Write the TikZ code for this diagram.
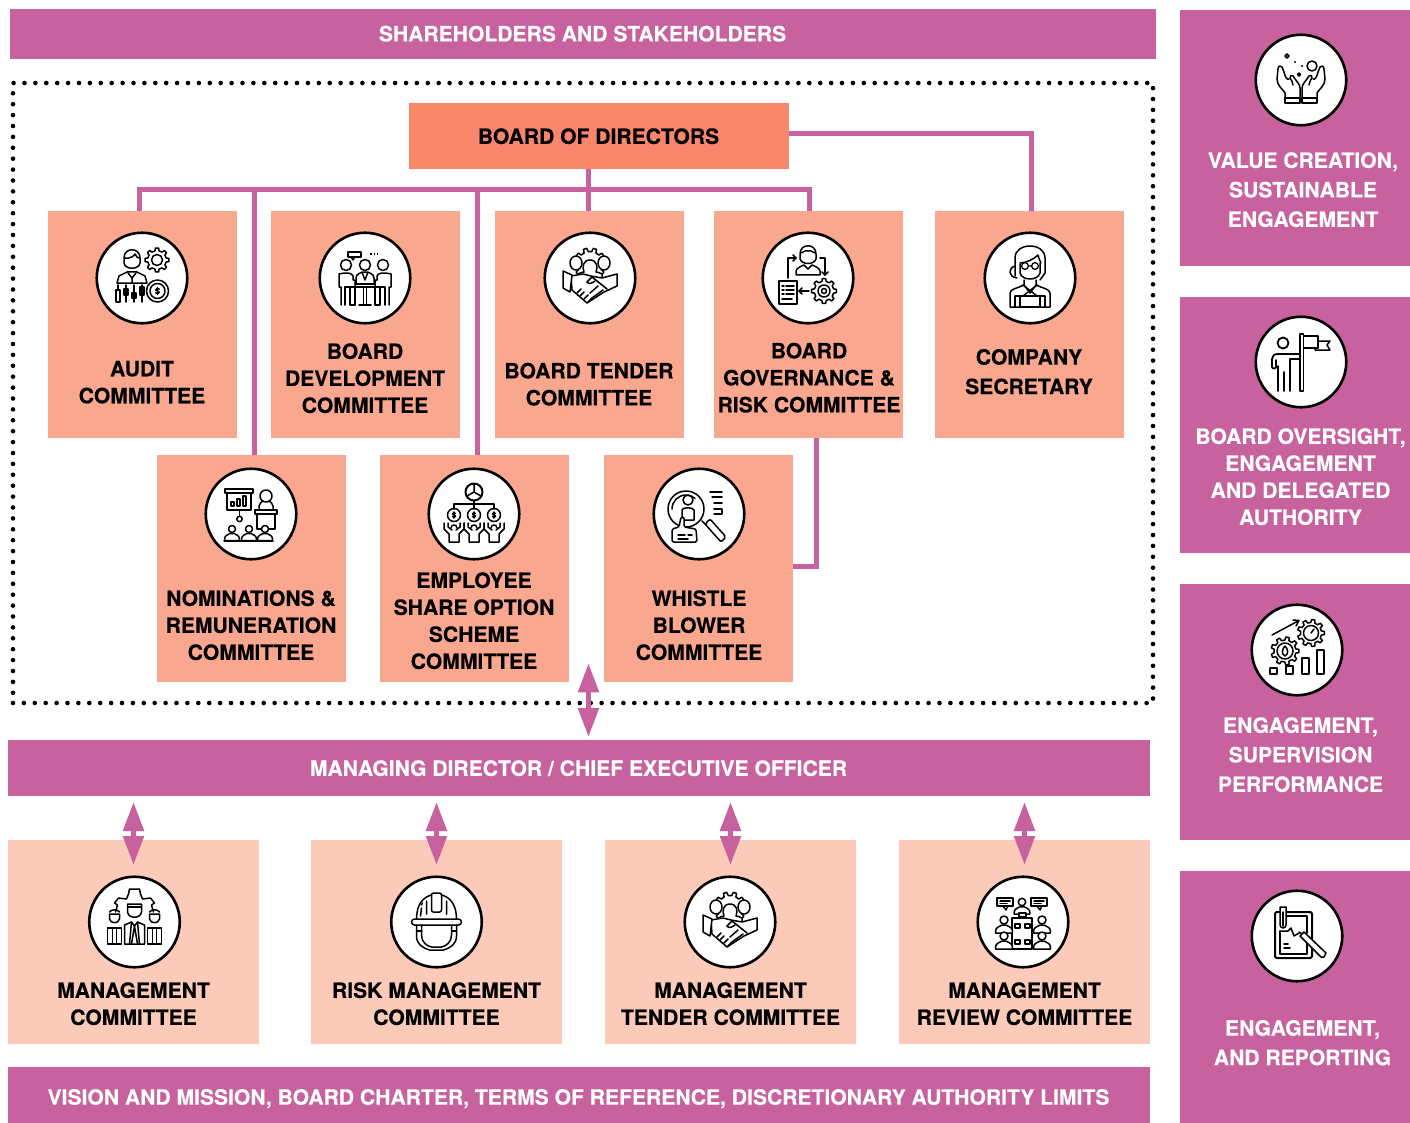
\documentclass[tikz,border=0pt]{standalone}
\usepackage{fontspec}
\setmainfont{TeX Gyre Heros}[BoldFeatures={FakeBold=0.25}]
\usetikzlibrary{arrows.meta,calc}
\definecolor{plum}{HTML}{C7629F}
\definecolor{coral}{HTML}{F9856B}
\definecolor{salmon}{HTML}{F9A78F}
\definecolor{peach}{HTML}{FBCAB8}
\tikzset{
 box/.style={rectangle,inner sep=0pt,outer sep=0pt,draw=none},
 lab/.style={align=center,inner sep=0pt,outer sep=0pt,text=black,yshift=.8pt,font=\fontsize{21.1}{27}\selectfont\bfseries},
 wlab/.style={lab,text=white},
 wide/.style={font=\fontsize{21.1}{29.5}\selectfont\bfseries},
 disc/.style={circle,draw=black,fill=white,line width=2.6pt,minimum size=90.5pt,inner sep=0pt},
 conn/.style={draw=plum,line width=5pt},
 darr/.style={plum,line width=5.4pt,{Triangle[width=20pt,length=29pt]}-{Triangle[width=20pt,length=29pt]}},
 ic/.style={draw=black,line width=1.5pt,line join=round,line cap=round},
 icw/.style={ic,fill=white},
 thk/.style={ic,line width=2.4pt}
}
\newcommand{\gearat}[4]{%
 \begin{scope}[shift={(#1,#2)}]
 \pgfmathsetmacro{\gstep}{360/#4}
 \pgfmathsetmacro{\grin}{#3*0.78}
 \draw[icw] (\gstep*0.72:\grin pt)
 \foreach \i in {1,...,#4} {
 -- ({\i*\gstep-0.28*\gstep}:\grin pt) -- ({\i*\gstep-0.17*\gstep}:#3 pt) -- ({\i*\gstep+0.17*\gstep}:#3 pt) -- ({\i*\gstep+0.28*\gstep}:\grin pt)
 } -- cycle;
 \end{scope}}
\newcommand{\bustat}[3]{%
 \begin{scope}[shift={(#1,#2)},scale=#3]
 \draw[icw] (-2.1,3.3) -- (-2.1,2.7) .. controls (-2.1,1.8) and (-1,1.6) .. (-.6,1.3) -- (.6,1.3) .. controls (1,1.6) and (2.1,1.8) .. (2.1,2.7) -- (2.1,3.3) -- cycle;
 \draw[icw] (0,0) circle (1pt);
 \end{scope}}
\newcommand{\dollarat}[3]{%
 \begin{scope}[shift={(#1,#2)},scale=#3]
 \draw[ic] (2,-2) .. controls (1,-3.5) and (-2.5,-3) .. (-2,-1) .. controls (-1.5,.5) and (2.5,-.5) .. (2,1.5) .. controls (1.5,3.5) and (-1,3.5) .. (-2,2);
 \draw[ic] (0,-4) -- (0,4);
 \end{scope}}
\newcommand{\handshakeicon}{%
 \gearat{0}{-14}{16}{10}
 \draw[icw] (-14,-15) ellipse (6pt and 7pt);
 \draw[icw] (14,-15) ellipse (6pt and 7pt);
 \draw[icw] (-12,0) -- (-12,-4) .. controls (-10,-6) and (-8,-5) .. (-6,-6) .. controls (-8,-11) and (-7,-18) .. (0,-18) .. controls (7,-18) and (8,-11) .. (6,-6) .. controls (8,-5) and (10,-6) .. (12,-4) -- (12,0) -- cycle;
 \draw[icw] (-19,-2) -- (-7,-4) -- (1,-2) -- (12,0) -- (27,-4) -- (27,8) -- (14,14) -- (-3,25) -- (-18,12) -- cycle;
 \draw[icw] (-27,-7) -- (-18,-3) -- (-20,14) -- (-27,10) -- cycle;
 \draw[ic] (-3,4) -- (2,-1) -- (17,11);
 \draw[ic] (-3,4) .. controls (-1,7) and (2,5) .. (5,3);
 \draw[ic] (-13,15) -- (-9,11) (-10,18) -- (-6,14) (-6,21) -- (-2,17) (-2,24) -- (2,20);
 \draw[ic] (2,20) -- (13,12) (0,15) -- (8,8);
}
\begin{document}
\begin{tikzpicture}[x=1pt,y=-1pt]
\useasboundingbox (0,0) rectangle (1410,1123);
\fill[white] (0,0) rectangle (1410,1123);

% bars
\node[box,fill=plum,minimum width=1146pt,minimum height=50pt] (top) at (583,34) {};
\node[wlab] (topt) at (582.5,34.5) {SHAREHOLDERS AND STAKEHOLDERS};
\node[draw=black,line width=4.6pt,line cap=round,dash pattern=on 0pt off 10.9pt,minimum width=1140pt,minimum height=620pt,inner sep=0pt] (frame) at (583,393) {};
\node[box,fill=coral,minimum width=380pt,minimum height=66pt] (board) at (599,136) {};
\node[lab] (boardt) at (598.5,137) {BOARD OF DIRECTORS};
\node[box,fill=plum,minimum width=1142pt,minimum height=56pt] (md) at (579,768) {};
\node[wlab] (mdt) at (578.5,769) {MANAGING DIRECTOR / CHIEF EXECUTIVE OFFICER};
\node[box,fill=plum,minimum width=1142pt,minimum height=56pt] (vis) at (579,1095) {};
\node[wlab] (vist) at (578.5,1099.5) {VISION AND MISSION, BOARD CHARTER, TERMS OF REFERENCE, DISCRETIONARY AUTHORITY LIMITS};

% committee boxes
\foreach \n/\cx/\cy in {aud/142.5/324.5,dev/365.5/324.5,ten/589.5/324.5,gov/808.5/324.5,sec/1029.5/324.5,nom/251.5/568.5,emp/474.5/568.5,whi/698.5/568.5}
 \node[box,fill=salmon,minimum width=189pt,minimum height=227pt] (\n) at (\cx,\cy) {};
\foreach \n/\cx in {mgc/133.5,rmc/436.5,mtc/730.5,mrc/1024.5}
 \node[box,fill=peach,minimum width=251pt,minimum height=204pt] (\n) at (\cx,942) {};
\foreach \n/\cy/\hh in {pa/138/256,pb/425/256,pc/712/256,pd/997/252}
 \node[box,fill=plum,minimum width=230pt,minimum height=\hh pt] (\n) at (1295,\cy) {};

% connectors
\coordinate (bus) at (588.5,190);
\draw[conn] ([xshift=-3.5pt]aud.north) |- (bus) -| ([xshift=.5pt]gov.north);
\draw[conn] (board.south -| bus) -- (ten.north -| bus);
\draw[conn] ([xshift=2.5pt]nom.north) -- ([xshift=2.5pt]nom.north |- bus);
\draw[conn] ([xshift=2.5pt]emp.north) -- ([xshift=2.5pt]emp.north |- bus);
\draw[conn] ([yshift=2pt]board.east) -| ([xshift=1.5pt]sec.north);
\draw[conn] ([yshift=2.5pt]whi.east) -| ([xshift=7.5pt]gov.south);

% arrows
\draw[darr] ([yshift=3pt]md.north -| bus) -- ([yshift=42pt]frame.south -| bus);
\draw[darr] ([yshift=-6pt]md.south -| mgc.north) -- ([yshift=-25pt]mgc.north);
\draw[darr] ([yshift=-6pt]md.south -| rmc.north) -- ([yshift=-25pt]rmc.north);
\draw[darr] ([yshift=-6pt]md.south -| mtc.north) -- ([yshift=-25pt]mtc.north);
\draw[darr] ([yshift=-6pt]md.south -| mrc.north) -- ([yshift=-25pt]mrc.north);

% labels
\node[lab] (audt) at (142,383) {AUDIT\\COMMITTEE};
\node[lab] (devt) at (365,379) {BOARD\\DEVELOPMENT\\COMMITTEE};
\node[lab] (tent) at (589,385) {BOARD TENDER\\COMMITTEE};
\node[lab] (govt) at (809,378.5) {BOARD\\GOVERNANCE \&\\RISK COMMITTEE};
\node[lab,wide] (sect) at (1029,372.5) {COMPANY\\SECRETARY};
\node[lab] (nomt) at (251,626) {NOMINATIONS \&\\REMUNERATION\\COMMITTEE};
\node[lab] (empt) at (474,621.5) {EMPLOYEE\\SHARE OPTION\\SCHEME\\COMMITTEE};
\node[lab] (whit) at (699,626) {WHISTLE\\BLOWER\\COMMITTEE};
\node[lab] (mgct) at (133.5,1004.5) {MANAGEMENT\\COMMITTEE};
\node[lab] (rmct) at (436.5,1004.5) {RISK MANAGEMENT\\COMMITTEE};
\node[lab] (mtct) at (730.5,1004.5) {MANAGEMENT\\TENDER COMMITTEE};
\node[lab] (mrct) at (1024.5,1004.5) {MANAGEMENT\\REVIEW COMMITTEE};
\node[wlab,wide] (pat) at (1303,190.5) {VALUE CREATION,\\SUSTAINABLE\\ENGAGEMENT};
\node[wlab] (pbt) at (1300.5,477.5) {BOARD OVERSIGHT,\\ENGAGEMENT\\AND DELEGATED\\AUTHORITY};
\node[wlab,wide] (pct) at (1300.5,755.5) {ENGAGEMENT,\\SUPERVISION\\PERFORMANCE};
\node[wlab,wide] (pdt) at (1302.5,1043.5) {ENGAGEMENT,\\AND REPORTING};

% discs
\node[disc] (audi) at (142,278) {};
\node[disc] (devi) at (365,278) {};
\node[disc] (teni) at (590,278) {};
\node[disc] (govi) at (808,278) {};
\node[disc] (seci) at (1030,278) {};
\node[disc] (nomi) at (251,514) {};
\node[disc] (empi) at (474,514) {};
\node[disc] (whii) at (699,514) {};
\node[disc] (mgci) at (134.5,922) {};
\node[disc] (rmci) at (436.5,922) {};
\node[disc] (mtci) at (730,922) {};
\node[disc] (mrci) at (1023,922) {};
\node[disc] (pai) at (1301,80) {};
\node[disc] (pbi) at (1301,362) {};
\node[disc] (pci) at (1297,650) {};
\node[disc] (pdi) at (1297,936) {};

% audit icon
\begin{scope}[shift={(audi.center)}]
 \draw[ic] (-25,5) -- (-23,-2) -- (-15,-6) -- (-5,-6) -- (3,-2) -- (5,5) -- cycle;
 \draw[ic] (-18,-20) .. controls (-18,-31) and (-2,-31) .. (-2,-20) -- (-2,-15) .. controls (-3,-8) and (-17,-8) .. (-18,-15) -- cycle;
 \draw[ic] (-17,-20) .. controls (-12,-19) and (-8,-22) .. (-7,-24) .. controls (-6,-21) and (-4,-20) .. (-3,-20);
 \draw[ic] (-14,-5) -- (-10,0) -- (-6,-5) (-10,0) -- (-10,5);
 \gearat{15}{-18}{12}{8}
 \draw[ic] (15,-18) circle (5.5pt);
 \draw[ic] (15.5,13) circle (11pt) (15.5,13) circle (7.5pt);
 \dollarat{15.5}{13}{.9}
 \draw[icw] (-26,12) rectangle (-22,24);
 \draw[ic] (-24,7) -- (-24,12);
 \draw[icw] (-18,11) rectangle (-14,17);
 \draw[ic] (-16,7) -- (-16,24);
 \draw[icw] (-10,15) rectangle (-6,20);
 \draw[ic] (-8,7) -- (-8,24);
 \draw[icw] (-2,9) rectangle (2,17);
 \draw[ic] (0,7) -- (0,24);
\end{scope}
% development icon
\begin{scope}[shift={(devi.center)}]
 \draw[ic] (-17,-26) rectangle (-4,-21);
 \draw[ic] (-14,-21) -- (-12,-18) -- (-10,-21);
 \draw[ic,line width=2pt,dash pattern=on 1.5pt off 2pt,line cap=butt] (5,-24) -- (13,-24);
 \foreach \hx in {-19,0,18} \draw[ic] (\hx,-13) circle (5.5pt);
 \draw[ic] (-10,9) -- (-20,9) -- (-20,27);
 \draw[ic] (-10,9) -- (-10,2) -- (-12,2) -- (-12,-2) .. controls (-13,-5) and (-18,-6) .. (-26,-4) -- (-26,9) -- (-24,9) -- (-24,27);
 \draw[ic] (-10,9) -- (-10,27) -- (-15,27) -- (-15,9);
 \draw[ic] (10,9) -- (20,9) -- (20,27);
 \draw[ic] (10,9) -- (10,2) -- (12,2) -- (12,-2) .. controls (13,-5) and (18,-6) .. (26,-4) -- (26,9) -- (24,9) -- (24,27);
 \draw[ic] (10,9) -- (10,27) -- (15,27) -- (15,9);
 \draw[ic] (-9,6) -- (-9,0) .. controls (-9,-4) and (-4,-6) .. (0,-6) .. controls (4,-6) and (9,-4) .. (9,0) -- (9,6);
 \draw[ic] (-3,-6) -- (0,2) -- (3,-6);
 \draw[ic] (-10,6) -- (10,6) (-10,9) -- (10,9) (-1.5,9) -- (-1.5,27) (1.5,9) -- (1.5,27) (-6,27) -- (6,27);
\end{scope}
% tender icon
\begin{scope}[shift={(teni.center)}] \handshakeicon \end{scope}
% governance icon
\begin{scope}[shift={(govi.center)}]
 \draw[ic] (-8,-24) .. controls (-8,-35) and (8,-35) .. (8,-24) -- (8,-19) .. controls (6,-13) and (-6,-13) .. (-8,-19) -- cycle;
 \draw[ic] (-7,-25) -- (-3,-27) -- (3,-27) -- (7,-25);
 \draw[ic] (-12,-3) -- (-12,-7) .. controls (-12,-10) and (-6,-12) .. (-4,-13) -- (0,-9) -- (4,-13) .. controls (6,-12) and (12,-10) .. (12,-7) -- (12,-3) -- cycle;
 \draw[ic] (-20,0) -- (-20,-20) -- (-12,-20);
 \draw[ic] (-15,-23) -- (-12,-20) -- (-15,-17);
 \draw[ic] (12,-20) -- (17,-20) -- (17,-3);
 \draw[ic] (14,-6) -- (17,-3) -- (20,-6);
 \draw[ic,line width=2pt] (-29,3) rectangle (-11,26);
 \foreach \ly in {8,12,16} \draw[ic] (-26,\ly) -- (-24,\ly) (-22,\ly) -- (-14,\ly);
 \draw[ic] (-26,21) -- (-16,21);
 \draw[ic] (1,13) -- (-9,13);
 \draw[ic] (-6,10) -- (-9,13) -- (-6,16);
 \gearat{16}{13}{12.5}{8}
 \draw[ic] (16,13) circle (6pt) (16,13) circle (2.5pt);
\end{scope}
% secretary icon
\begin{scope}[shift={(seci.center)}]
 \draw[ic] (-15,-2) -- (-15,-20) .. controls (-15,-36) and (15,-36) .. (15,-20) -- (15,-5) -- (10,2);
 \draw[ic] (-15,-12) .. controls (-22,-10) and (-22,-1) .. (-13,0);
 \draw[ic] (-10,-15) .. controls (-4,-15) and (4,-19) .. (8,-23) .. controls (9,-19) and (10,-17) .. (11,-15);
 \draw[ic] (-10,-14) -- (-10,-5) .. controls (-8,3) and (8,3) .. (10,-5) -- (10,-15);
 \draw[ic,line width=1.3pt] (-5,-12) circle (3.4pt) (5,-12) circle (3.4pt) (-1.6,-12) -- (1.6,-12);
 \draw[ic] (-20,29) -- (-20,15) .. controls (-20,11) and (-12,10) .. (-6,7) -- (0,15) -- (6,7) .. controls (12,10) and (20,11) .. (20,15) -- (20,29) -- cycle;
 \draw[ic] (-6,2) -- (-6,7) (6,2) -- (6,7) (-7,7) -- (7,18) (7,7) -- (-7,18);
 \draw[icw] (-10,18) rectangle (10,29);
 \draw[ic] (-15,29) -- (-15,18) (15,29) -- (15,18) (-10,18) -- (-15,18) (10,18) -- (15,18);
\end{scope}
% nominations icon
\begin{scope}[shift={(nomi.center)}]
 \draw[ic] (-26,-25) rectangle (2,-21);
 \draw[ic] (-24,-21) rectangle (0,-4);
 \draw[ic] (-20,-8) rectangle (-17,-12) (-14,-8) rectangle (-11,-15) (-8,-8) rectangle (-5,-18);
 \draw[ic] (-11.5,-4) -- (-11.5,2);
 \draw[ic] (-11.5,5) circle (2.7pt);
 \draw[icw] (6,0) rectangle (24,15);
 \draw[ic] (8,-4) -- (8,-8) .. controls (8,-11) and (11,-12) .. (12,-13) (22,-4) -- (22,-8) .. controls (22,-11) and (19,-12) .. (18,-13);
 \draw[ic] (15,-18) circle (6pt);
 \draw[icw] (4,-4) rectangle (26,0);
 \bustat{14}{15}{3.5}
 \bustat{-2}{15}{3.5}
 \bustat{-19}{15}{3.5}
 \draw[ic] (-27,27) -- (22,27);
\end{scope}
% employee icon
\begin{scope}[shift={(empi.center)}]
 \draw[ic,line width=2pt] (0,-22) circle (8.5pt);
 \draw[ic] (0,-22) -- (0,-30) (0,-22) -- (-7,-18) (0,-22) -- (7,-18);
 \draw[ic] (0,-13) -- (0,-5) (-20,-5) -- (-20,-10) -- (20,-10) -- (20,-5);
 \foreach \px in {-20,0,20} {
 \draw[ic] (\px,1) circle (6.5pt);
 \dollarat{\px}{1}{.75}
 \draw[ic] (\px-10,9) -- (\px-10,15) -- (\px-5,20) -- (\px-5,28) -- (\px+5,28) -- (\px+5,20) -- (\px+10,15) -- (\px+10,9);
 \draw[ic] (\px-6,9) -- (\px-6,13) -- (\px-2,16) (\px+6,9) -- (\px+6,13) -- (\px+2,16);
 \draw[ic] (\px-3,14) .. controls (\px-3,10) and (\px+3,10) .. (\px+3,14);
 }
\end{scope}
% whistle icon
\begin{scope}[shift={(whii.center)}]
 \draw[ic] (-13,-5) circle (18pt);
 \draw[ic] (-27,-5) arc[start angle=180,end angle=50,radius=14pt];
 \draw[ic] (-11,-14) circle (5pt);
 \draw[ic] (-17,6) -- (-17,-4) .. controls (-17,-7) and (-6,-7) .. (-5,-4) -- (-5,6) -- cycle;
 \draw[icw,rounded corners=2pt] (6,10) -- (11,5) -- (27,23) -- (22,28) -- cycle;
 \draw[ic] (3,7) -- (7,11);
 \draw[ic] (11,-22) -- (23,-22) (13,-17) -- (23,-17) (15,-11) -- (23,-11) (15,-5) -- (23,-5) -- (23,0) -- (15,0);
 \draw[icw,rounded corners=1.5pt] (-27,28) -- (-27,15) -- (-20,13) -- (-18,3) -- (-15,3) -- (-15,13) -- (-3,15) -- (-2,28) -- cycle;
 \draw[ic] (-21,21) -- (-14,21) (-11,21) -- (-7,21) (-21,25) -- (-11,25);
\end{scope}
% management committee icon
\begin{scope}[shift={(mgci.center)}]
 \draw[ic] (-17,-17) -- (-20,-19) -- (-16,-24) -- (-8,-23) -- (-6,-28) -- (-5,-33) -- (5,-33) -- (6,-28) -- (8,-23) -- (16,-24) -- (20,-19) -- (17,-17) -- (19,-10);
 \draw[ic] (-19,-10) -- (-17,-17);
 \draw[ic] (-7,-18) -- (7,-18) -- (7,-10) .. controls (6,-3) and (-6,-3) .. (-7,-10) -- cycle;
 \draw[ic] (-7,-15) -- (7,-15);
 \draw[ic] (-10,22) -- (-10,3) -- (-3,0) -- (0,4) -- (3,0) -- (10,3) -- (10,22) -- cycle;
 \draw[ic] (-3,0) -- (-5,22) (3,0) -- (5,22) (0,4) -- (-3,22) (0,4) -- (3,22);
 \foreach \sx in {-20,20} {
 \draw[ic] (\sx-5,-8) -- (\sx+5,-8) -- (\sx+5,-3) .. controls (\sx+4,2) and (\sx-4,2) .. (\sx-5,-3) -- cycle;
 \draw[ic] (\sx-5,-10) .. controls (\sx-3,-13) and (\sx+3,-13) .. (\sx+5,-10);
 \draw[ic] (\sx-7,22) -- (\sx-7,6) -- (\sx+7,6) -- (\sx+7,22) -- cycle;
 \draw[ic] (\sx-2,6) -- (\sx-2,22) (\sx+2,6) -- (\sx+2,22);
 }
\end{scope}
% helmet icon
\begin{scope}[shift={(rmci.center)}]
 \draw[ic] (-20,-3) .. controls (-20,-18) and (-13,-25) .. (-5,-27) -- (5,-27) .. controls (13,-25) and (20,-18) .. (20,-3);
 \draw[icw,rounded corners=2pt] (-5,-10) -- (-5,-29) -- (5,-29) -- (5,-10) -- cycle;
 \draw[ic] (-10,-8) -- (-10,-21) (10,-8) -- (10,-21) (-16,-6) -- (-15,-14) (-15,-17) -- (-14,-19);
 \draw[icw,rounded corners=3pt] (-25,-3) rectangle (25,3);
 \draw[ic] (-20,3) -- (-20,14) .. controls (-20,22) and (-14,26) .. (-7,28) -- (7,28) .. controls (14,26) and (20,22) .. (20,14) -- (20,3);
 \draw[ic] (-15,3) -- (-15,13) .. controls (-15,20) and (-10,24) .. (-5,25) -- (5,25) .. controls (10,24) and (15,20) .. (15,13) -- (15,3);
 \draw[ic] (-20,9) -- (-15,9) (20,9) -- (15,9);
\end{scope}
% mgmt tender icon
\begin{scope}[shift={(mtci.center)}] \handshakeicon \end{scope}
% review icon
\begin{scope}[shift={(mrci.center)}]
 \foreach \bx in {-26,8} {
 \draw[ic] (\bx,-24) rectangle (\bx+16,-16);
 \draw[ic] (\bx+3,-21) -- (\bx+13,-21) (\bx+3,-18.5) -- (\bx+10,-18.5);
 }
 \draw[ic] (-20,-16) -- (-17,-12) -- (-15,-16) (14,-16) -- (17,-12) -- (19,-16);
 \bustat{-1}{-20}{3.7}
 \draw[ic] (-11,-4) rectangle (9,27);
 \draw[icw] (-4,-9) rectangle (3,-5);
 \draw[ic] (-8,2) rectangle (-3,6) (2,2) rectangle (7,6) (-8,18) rectangle (-3,22) (2,18) rectangle (7,22);
 \bustat{-19}{-2}{4}
 \bustat{19}{-2}{4}
 \bustat{-19}{14}{4}
 \bustat{19}{14}{4}
\end{scope}
% hands icon
\begin{scope}[shift={(pai.center)}]
 \draw[ic] (11,-14) circle (5pt);
 \draw[ic] (-14,-26) -- (-12,-24) -- (-14,-22) -- (-16,-24) -- cycle;
 \draw[ic] (-2,-7) -- (-0.5,-5.5) -- (-2,-4) -- (-3.5,-5.5) -- cycle;
 \fill (-6,-18) circle (1.1pt) (1,-14) circle (1.1pt);
 \foreach \sg in {-1,1} {
 \draw[ic] (\sg*1,17) -- (\sg*1,8) .. controls (\sg*1,4) and (\sg*5,1) .. (\sg*8,-4) .. controls (\sg*9,-6) and (\sg*12,-4) .. (\sg*11,-2) .. controls (\sg*9,1) and (\sg*8,3) .. (\sg*8,5);
 \draw[ic] (\sg*12,-1) .. controls (\sg*14,0) and (\sg*16,-3) .. (\sg*17,-8) -- (\sg*19,-13) .. controls (\sg*20,-15) and (\sg*23,-14) .. (\sg*23,-11) -- (\sg*24,-1) .. controls (\sg*24,6) and (\sg*18,9) .. (\sg*16,13) -- (\sg*16,18);
 \draw[ic] (\sg*16,18) rectangle (\sg*1,23);
 }
\end{scope}
% flag icon
\begin{scope}[shift={(pbi.center)}]
 \draw[ic,line width=1.8pt] (-18,-19) circle (5.5pt);
 \draw[ic,line width=1.8pt] (-1,-8) -- (-23,-8) .. controls (-27,-8) and (-29,-6) .. (-29,-3) -- (-29,5) .. controls (-29,7) and (-25,7) .. (-25,5) -- (-25,-2);
 \draw[ic,line width=1.8pt] (-11,29) -- (-11,-3) -- (-1,-3);
 \draw[ic,line width=1.8pt] (-23,4) -- (-23,29) (-17,10) -- (-17,29);
 \draw[icw,line width=1.4pt] (-1,-28) rectangle (2.5,29);
 \draw[ic] (3,-26) -- (17,-26) -- (17,-14) -- (3,-14);
 \draw[ic] (17,-21) -- (29,-21) -- (26,-17) -- (29,-12) -- (14,-12) -- (14,-14);
\end{scope}
% growth icon
\begin{scope}[shift={(pci.center)}]
 \draw[ic] (-25,-15) -- (1,-29);
 \draw[ic] (-4,-30) -- (2,-29.5) -- (-1,-24);
 \gearat{-12}{1}{14}{9}
 \draw[ic] (-12,1) circle (8pt);
 \draw[ic] (-12,-4) .. controls (-15,-1) and (-16,4) .. (-12,6) .. controls (-8,4) and (-9,-1) .. (-12,-4);
 \gearat{14}{-17}{13.5}{9}
 \draw[ic] (14,-17) circle (7.5pt);
 \draw[ic] (14,-17) -- (17,-21);
 \draw[ic] (-27,18) rectangle (-20,24);
 \draw[ic] (-11,16) rectangle (-4,24);
 \draw[ic] (5,8) rectangle (12,24);
 \draw[ic] (20,0) rectangle (27,24);
\end{scope}
% report icon
\begin{scope}[shift={(pdi.center)}]
 \draw[ic,line width=2pt,rounded corners=2pt] (-22,-24) rectangle (15,22);
 \draw[ic] (-10,-20) -- (10,-20) -- (10,-3);
 \draw[ic] (-17,-5) -- (-17,18) -- (10,18) -- (10,6);
 \draw[ic] (-17,-5) -- (-9,-5) -- (-6,-8) -- (-3,0) -- (2,-3);
 \draw[ic] (-13,8) -- (-9,8) (-13,12) -- (-7,12);
 \draw[icw,rounded corners=3pt] (-17,-8) -- (-17,-26) .. controls (-17,-29) and (-11,-29) .. (-11,-26) -- (-11,-8) -- cycle;
 \draw[ic] (-14,-24) -- (-14,-10);
 \draw[icw] (3,0) -- (7,-4) -- (29,17) -- (27,21) -- (24,21) -- cycle;
 \draw[ic] (2,-4) -- (5,-2);
\end{scope}
\end{tikzpicture}
\end{document}
